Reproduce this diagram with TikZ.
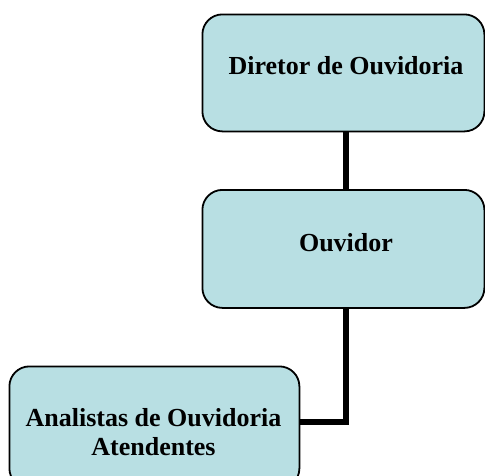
\documentclass[tikz,border=0pt]{standalone}
\usepackage{fontspec}
\setmainfont{Liberation Serif}
\definecolor{boxfill}{RGB}{184,223,227}
\begin{document}
\begin{tikzpicture}[x=1pt,y=-1pt,
  orgbox/.style={draw=black,line width=1.8pt,fill=boxfill,rounded corners=20pt},
  orgtext/.style={font=\bfseries\fontsize{26}{29}\selectfont,align=center,inner sep=0pt},
  link/.style={line width=6pt,black}]
\useasboundingbox (0,0) rectangle (485,475);
\clip (0,0) rectangle (485,475);
\node[orgbox,minimum width=282pt,minimum height=117pt,anchor=north west] (b1) at (201.5,13.5) {};
\node[orgbox,minimum width=282pt,minimum height=118pt,anchor=north west] (b2) at (201.5,189) {};
\node[orgbox,minimum width=290pt,minimum height=122pt,anchor=north west] (b3) at (8.5,365.5) {};
\node[orgtext] (t1) at (346,65.5) {Diretor de Ouvidoria};
\node[orgtext] (t2) at (346,243) {Ouvidor};
\node[orgtext] (t3) at (153.5,432) {Analistas de Ouvidoria\\Atendentes};
\coordinate (j) at (346,422);
\draw[link] (b1.south -| j) -- (b2.north -| j);
\draw[link] (b2.south -| j) -- (j) -- (b3.east |- j);
\end{tikzpicture}
\end{document}
